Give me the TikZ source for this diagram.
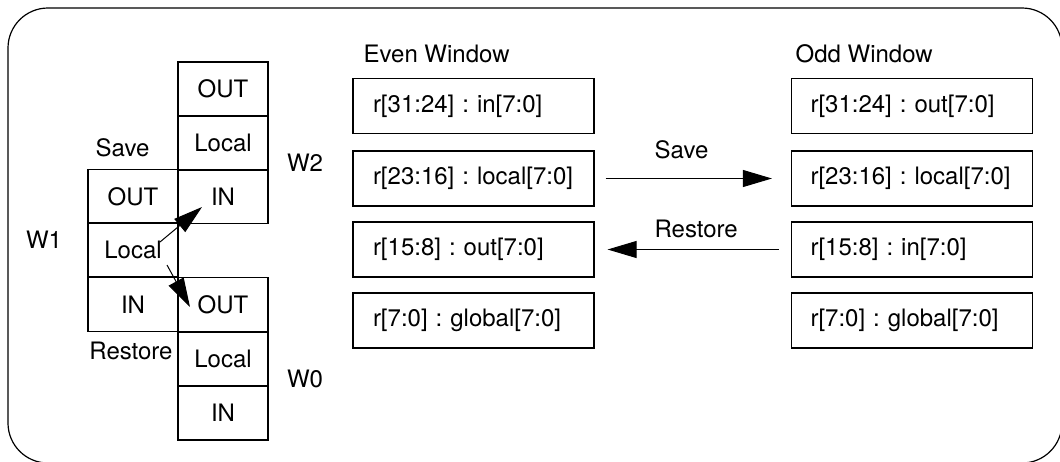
\documentclass[tikz,border=0pt]{standalone}
\usepackage{fontspec}
\setmainfont{TeX Gyre Heros}
\frenchspacing
\usetikzlibrary{arrows.meta}
\begin{document}
\begin{tikzpicture}[x=1pt,y=-1pt,
  every node/.style={font=\fontsize{24}{28}\selectfont},
  line width=1.2pt,
  cell/.style={draw, minimum width=90, minimum height=54, inner sep=0},
  reg/.style={draw, minimum width=241, minimum height=55, inner sep=0,
              text width=241, align=left,
              execute at begin node={\hyphenpenalty=10000\hspace*{20pt}}},
  oddreg/.style={draw, minimum width=241, minimum height=55, inner sep=0,
              text width=241, align=left,
              execute at begin node={\hyphenpenalty=10000\hspace*{19pt}}},
  lbl/.style={inner sep=0},
  arr/.style={-{Triangle[length=29pt,width=17pt]}, line width=1pt}]
\useasboundingbox (0,0) rectangle (1060,461);
\clip (0,0) rectangle (1060,461);
% outer frame, partly cut off at the right and bottom edges
\draw[rounded corners=40] (8,8) rectangle (1062,463);

% register window stacks
\node[cell] (w2o) at (223,89)    {OUT};
\node[cell] (w2l) at (223,143)   {Local};
\node[cell] (w2i) at (223,196.5) {IN};
\node[cell] (w1o) at (133,196.5) {OUT};
\node[cell] (w1l) at (133,250)   {Local};
\node[cell] (w1i) at (133,304.5) {IN};
\node[cell] (w0o) at (223,304.5) {OUT};
\node[cell] (w0l) at (223,359)   {Local};
\node[cell] (w0i) at (223,413)   {IN};

\node[lbl] (save)  at (122.5,148) {Save};
\node[lbl] (rest)  at (131,351)   {Restore};
\node[lbl] (wtwo)  at (305,162.5) {W2};
\node[lbl] (wone)  at (44,239.5)  {W1};
\node[lbl] (wzero) at (305,378.5) {W0};

\coordinate (sa) at (160,242);
\coordinate (sb) at (202,207);
\coordinate (ra) at (167,265);
\coordinate (rb) at (190,307);
\draw[arr] (sa) -- (sb);
\draw[arr] (ra) -- (rb);

% even and odd window register maps
\node[lbl, anchor=base west] (evt) at (363,62) {Even Window};
\node[lbl, anchor=base west] (odt) at (795,62) {Odd Window};

\node[reg] (ev1) at (473.5,106)   {r[31:24] : in[7:0]};
\node[reg] (ev2) at (473.5,178.5) {r[23:16] : local[7:0]};
\node[reg] (ev3) at (473.5,249.5) {r[15:8] : out[7:0]};
\node[reg] (ev4) at (473.5,320.5) {r[7:0] : global[7:0]};

\node[oddreg] (od1) at (912,106)   {r[31:24] : out[7:0]};
\node[oddreg] (od2) at (912,178.5) {r[23:16] : local[7:0]};
\node[oddreg] (od3) at (912,249.5) {r[15:8] : in[7:0]};
\node[oddreg] (od4) at (912,320.5) {r[7:0] : global[7:0]};

\draw[arr] ([xshift=11]ev2.east) -- ([xshift=-19]od2.west);
\draw[arr] ([xshift=-12]od3.west) -- ([xshift=13]ev3.east);
\node[lbl, anchor=west] (savelbl) at (654,150)   {Save};
\node[lbl, anchor=west] (restlbl) at (654,228.5) {Restore};
\end{tikzpicture}
\end{document}
